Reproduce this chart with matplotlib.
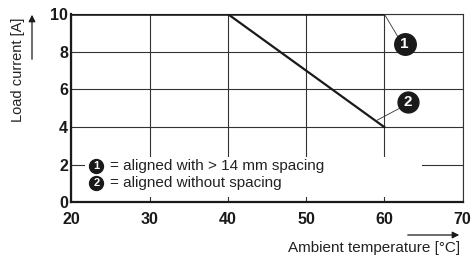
"""Derating curve: load current vs ambient temperature."""
import matplotlib
matplotlib.use("Agg")
import matplotlib.pyplot as plt
from matplotlib.patches import Rectangle, FancyArrowPatch

plt.rcParams["font.family"] = ["Liberation Sans", "DejaVu Sans"]

# curve 1: aligned with > 14 mm spacing
temp_1 = [20, 60]
load_1 = [10, 10]
# curve 2: aligned without spacing
temp_2 = [20, 40, 60]
load_2 = [10, 10, 4]

x_ticks = [20, 30, 40, 50, 60, 70]
y_ticks = [0, 2, 4, 6, 8, 10]
legend_rows = ["= aligned with > 14 mm spacing", "= aligned without spacing"]

INK = "#1a1a1a"
GRID = "#333333"
TXT = "#222222"

fig = plt.figure(figsize=(4.73, 2.56), dpi=100)
ax = fig.add_axes([0.151, 0.209, 0.827, 0.736])
ax.set_xlim(20, 70)
ax.set_ylim(0, 10)
ax.set_xticks(x_ticks)
ax.set_yticks(y_ticks)
ax.tick_params(length=0, labelsize=11.5, colors=INK)
ax.tick_params(axis="x", pad=6.5)
ax.tick_params(axis="y", pad=2.5)
for lab in ax.get_xticklabels() + ax.get_yticklabels():
    lab.set_fontweight("bold")

ax.set_axisbelow(True)
ax.grid(color=GRID, lw=0.8)
for s in ("top", "right"):
    ax.spines[s].set_linewidth(0.8)
    ax.spines[s].set_color(GRID)
for s in ("left", "bottom"):
    ax.spines[s].set_linewidth(1.6)
    ax.spines[s].set_color(INK)

ax.plot(temp_1, load_1, color=INK, lw=1.8, zorder=3, solid_capstyle="butt")
ax.plot(temp_2, load_2, color=INK, lw=1.6, zorder=3)

# white box behind the legend text hides the grid
ax.add_patch(Rectangle((21.7, 0.29), 43.1, 2.12, facecolor="white",
                       edgecolor="none", zorder=1))


def badge(x, y, num, size, fs):
    ax.plot(x, y, "o", ms=size, color=INK, zorder=5)
    ax.text(x, y, num, color="white", fontsize=fs, fontweight="bold",
            ha="center", va="center", zorder=6)


# leader lines and numbered markers
ax.plot([60, 61.75], [10, 8.78], color=GRID, lw=0.6, zorder=4)
badge(62.6, 8.41, "1", 15.5, 11)
ax.plot([58.9, 62.26], [4.33, 5.07], color=GRID, lw=0.6, zorder=4)
badge(63.0, 5.33, "2", 15, 11)

# legend
for i, row in enumerate(legend_rows):
    y = 1.94 - i * 0.91
    badge(23.2, y, str(i + 1), 10, 8)
    ax.text(24.95, y, row, fontsize=11, color=TXT, va="center", zorder=6)

# axis labels with arrows
fig.text(18 / 473, 1 - 70 / 256, "Load current [A]", rotation=90,
         ha="center", va="center", fontsize=10.5, color=TXT)
fig.text(460 / 473, 1 - 248 / 256, "Ambient temperature [°C]",
         ha="right", va="center", fontsize=11, color=TXT)
arrow = dict(arrowstyle="-|>", color=INK, lw=0.9, mutation_scale=10)
fig.add_artist(FancyArrowPatch(
    (32 / 473, 1 - 62 / 256), (32 / 473, 1 - 12 / 256),
    transform=fig.transFigure, **arrow))
fig.add_artist(FancyArrowPatch(
    (405 / 473, 1 - 235 / 256), (462 / 473, 1 - 235 / 256),
    transform=fig.transFigure, **arrow))

fig.savefig("out.png", dpi=100)
